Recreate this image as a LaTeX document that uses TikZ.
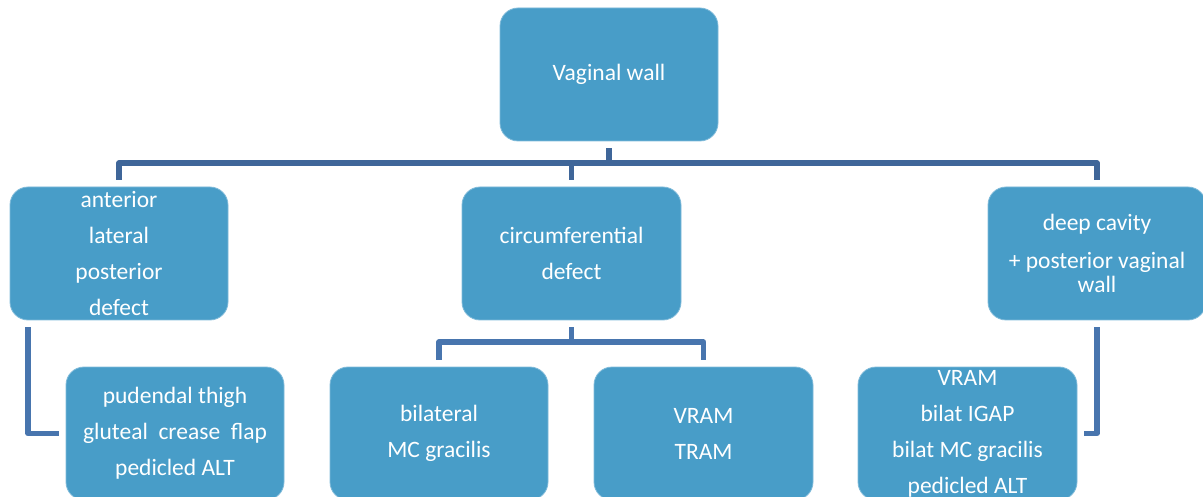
\documentclass[tikz,border=0pt]{standalone}
\usepackage{fontspec}
\setmainfont{Carlito}
\definecolor{boxblue}{HTML}{489DC8}
\definecolor{connblue}{HTML}{3F6699}
\definecolor{connblueb}{HTML}{4875AE}
\tikzset{
  box/.style={rectangle, rounded corners=18pt, fill=boxblue, draw=boxblue!70!white, line width=0.8pt,
    minimum height=133pt, inner sep=0pt},
  txt/.style={text=white, align=center, inner sep=0pt, font=\fontsize{23.5}{36}\selectfont},
  conn/.style={draw=connblue, line width=5.5pt, line join=round},
  connb/.style={conn, draw=connblueb}
}
\begin{document}
\begin{tikzpicture}[x=1pt,y=-1pt]
\useasboundingbox (0,0) rectangle (1203,497);
\begin{scope}
\clip (0,0) rectangle (1203,497);
% boxes
\node[box, minimum width=218pt] (T) at (609,74.5) {};
\node[box, minimum width=218pt] (L) at (119,253.5) {};
\node[box, minimum width=219pt] (M) at (571.5,253.5) {};
\node[box, minimum width=218pt] (R) at (1097,253.5) {};
\node[box, minimum width=218pt] (LC) at (175,433.5) {};
\node[box, minimum width=218pt] (MC1) at (439,433.5) {};
\node[box, minimum width=219pt] (MC2) at (703.5,433.5) {};
\node[box, minimum width=219pt] (RC) at (967.5,433.5) {};
% texts
\node[txt] (Tt) at (T) {Vaginal wall};
\node[txt] (Lt) at (L) {anterior\\lateral\\posterior\\defect};
\node[txt] (Mt) at (M) {circumferential\\defect};
\node[txt] (Rt) at (R) {deep cavity\\[2pt]+ posterior vaginal\\[-12pt]wall};
\node[txt] (LCt) at (LC) {pudendal thigh\\gluteal\ \ crease\ \ flap\\pedicled ALT};
\node[txt] (MC1t) at (MC1) {bilateral\\MC gracilis};
\node[txt] (MC2t) at (MC2) {VRAM\\TRAM};
\node[txt] (RCt) at (RC) {VRAM\\bilat IGAP\\bilat MC gracilis\\pedicled ALT};
% connectors
\coordinate (bus) at (0,163);
\coordinate (mbus) at (0,342);
\coordinate (lx) at (28,0);
\draw[conn] ([yshift=-7pt]T.south) -- (T.south |- bus);
\draw[conn] ([yshift=7pt]L.north) |- (R.north |- bus) -- ([yshift=7pt]R.north);
\draw[conn] (M.north |- bus) -- ([yshift=7pt]M.north);
\draw[connb] ([yshift=-7pt]M.south) -- (M.south |- mbus);
\draw[connb] ([yshift=7pt]MC1.north) |- (MC2.north |- mbus) -- ([yshift=7pt]MC2.north);
\draw[connb] ([yshift=-7pt]L.south -| lx) |- ([xshift=-7pt]LC.west);
\draw[connb] ([yshift=-7pt]R.south) |- ([xshift=7pt]RC.east);
\end{scope}
\end{tikzpicture}
\end{document}
